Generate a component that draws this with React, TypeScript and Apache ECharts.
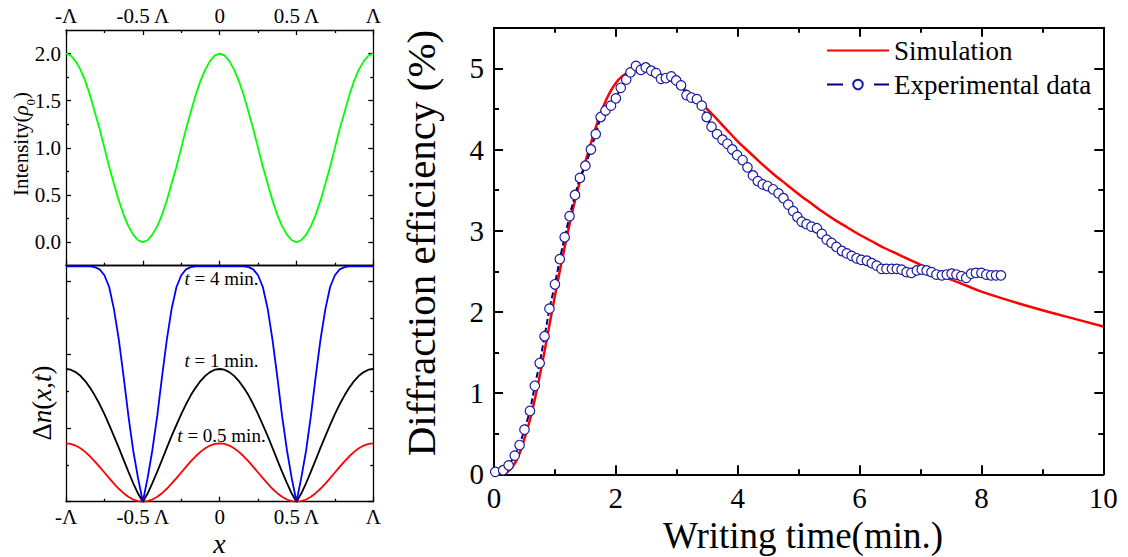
import React, { useEffect, useRef } from "react";
import * as echarts from "echarts";

const FONT = '"Liberation Serif", "Times New Roman", Times, serif';

// ---- left panels: position across one grating period (units of Λ)
const periodX = [
  -1, -0.969, -0.938, -0.906, -0.875, -0.844, -0.813, -0.781, -0.75, -0.719, -0.688, -0.656, -0.625, -0.594, -0.563, -0.531,
  -0.5, -0.469, -0.438, -0.406, -0.375, -0.344, -0.313, -0.281, -0.25, -0.219, -0.188, -0.156, -0.125, -0.094, -0.063, -0.031,
  0, 0.031, 0.063, 0.094, 0.125, 0.156, 0.188, 0.219, 0.25, 0.281, 0.313, 0.344, 0.375, 0.406, 0.438, 0.469,
  0.5, 0.531, 0.563, 0.594, 0.625, 0.656, 0.688, 0.719, 0.75, 0.781, 0.813, 0.844, 0.875, 0.906, 0.938, 0.969, 1,
];

const intensity = [
  2.0, 1.98, 1.92, 1.83, 1.71, 1.56, 1.38, 1.2, 1.0, 0.8, 0.62, 0.44, 0.29, 0.17, 0.08, 0.02, 0,
  0.02, 0.08, 0.17, 0.29, 0.44, 0.62, 0.8, 1.0, 1.2, 1.38, 1.56, 1.71, 1.83, 1.92, 1.98, 2.0,
  1.98, 1.92, 1.83, 1.71, 1.56, 1.38, 1.2, 1.0, 0.8, 0.62, 0.44, 0.29, 0.17, 0.08, 0.02, 0,
  0.02, 0.08, 0.17, 0.29, 0.44, 0.62, 0.8, 1.0, 1.2, 1.38, 1.56, 1.71, 1.83, 1.92, 1.98, 2.0,
];

const dnHalfMin = [
  0.794, 0.786, 0.764, 0.727, 0.678, 0.618, 0.549, 0.474, 0.397, 0.32, 0.245, 0.176, 0.116, 0.067, 0.03, 0.008, 0,
  0.008, 0.03, 0.067, 0.116, 0.176, 0.245, 0.32, 0.397, 0.474, 0.549, 0.618, 0.678, 0.727, 0.764, 0.786, 0.794,
  0.786, 0.764, 0.727, 0.678, 0.618, 0.549, 0.474, 0.397, 0.32, 0.245, 0.176, 0.116, 0.067, 0.03, 0.008, 0,
  0.008, 0.03, 0.067, 0.116, 0.176, 0.245, 0.32, 0.397, 0.474, 0.549, 0.618, 0.678, 0.727, 0.764, 0.786, 0.794,
];

const dnOneMin = [
  1.805, 1.795, 1.763, 1.712, 1.641, 1.552, 1.447, 1.325, 1.191, 1.046, 0.892, 0.732, 0.57, 0.409, 0.254, 0.111, 0,
  0.111, 0.254, 0.409, 0.57, 0.732, 0.892, 1.046, 1.191, 1.325, 1.447, 1.552, 1.641, 1.712, 1.763, 1.795, 1.805,
  1.795, 1.763, 1.712, 1.641, 1.552, 1.447, 1.325, 1.191, 1.046, 0.892, 0.732, 0.57, 0.409, 0.254, 0.111, 0,
  0.111, 0.254, 0.409, 0.57, 0.732, 0.892, 1.046, 1.191, 1.325, 1.447, 1.552, 1.641, 1.712, 1.763, 1.795, 1.805,
];

const dnFourMin = [
  3.2, 3.2, 3.2, 3.2, 3.2, 3.2, 3.19, 3.16, 3.08, 2.92, 2.62, 2.2, 1.7, 1.17, 0.7, 0.32, 0,
  0.32, 0.7, 1.17, 1.7, 2.2, 2.62, 2.92, 3.08, 3.16, 3.19, 3.2, 3.2, 3.2, 3.2, 3.2, 3.2,
  3.2, 3.2, 3.2, 3.2, 3.2, 3.19, 3.16, 3.08, 2.92, 2.62, 2.2, 1.7, 1.17, 0.7, 0.32, 0,
  0.32, 0.7, 1.17, 1.7, 2.2, 2.62, 2.92, 3.08, 3.16, 3.19, 3.2, 3.2, 3.2, 3.2, 3.2, 3.2,
];

// ---- tick values / labels
const phaseTicks = [-1, -0.5, 0, 0.5, 1];
const phaseMinor = [-0.75, -0.25, 0.25, 0.75];
const phaseLabels = ["-Λ", "-0.5 Λ", "0", "0.5 Λ", "Λ"];
const intensityTicks = [0, 0.5, 1, 1.5, 2];
const intensityMinor = [0.25, 0.75, 1.25, 1.75];
const dnTicks = [0, 1, 2, 3];
const dnMinor = [0.5, 1.5, 2.5];
const timeTicks = [0, 2, 4, 6, 8, 10];
const timeMinor = [1, 3, 5, 7, 9];
const effTicks = [0, 1, 2, 3, 4, 5];
const effMinor = [0.5, 1.5, 2.5, 3.5, 4.5];

// ---- right panel: simulation curve
const simTime = [
  0, 0.1, 0.2, 0.3, 0.4, 0.5, 0.6, 0.7, 0.8, 0.9, 1.0, 1.1, 1.2, 1.3, 1.4, 1.5, 1.6, 1.7, 1.8, 1.9,
  2.0, 2.1, 2.2, 2.3, 2.4, 2.5, 2.6, 2.7, 2.8, 2.9, 3.0, 3.2, 3.4, 3.6, 3.8, 4.0, 4.2, 4.4, 4.6, 4.8,
  5.0, 5.2, 5.4, 5.6, 5.8, 6.0, 6.2, 6.4, 6.6, 6.8, 7.0, 7.2, 7.4, 7.6, 7.8, 8.0, 8.5, 9.0, 9.5, 10,
];
const simEff = [
  0, 0.0, 0.02, 0.09, 0.22, 0.44, 0.7, 1.03, 1.4, 1.8, 2.2, 2.58, 2.94, 3.28, 3.58, 3.85, 4.1, 4.34, 4.54, 4.7,
  4.82, 4.9, 4.95, 4.98, 4.99, 4.98, 4.96, 4.93, 4.89, 4.85, 4.8, 4.7, 4.57, 4.42, 4.26, 4.1, 3.96, 3.82, 3.69, 3.57,
  3.45, 3.34, 3.23, 3.13, 3.04, 2.95, 2.87, 2.79, 2.72, 2.65, 2.58, 2.5, 2.43, 2.37, 2.31, 2.25, 2.13, 2.02, 1.92, 1.82,
];

// ---- right panel: experimental data
const expTime = [
  0.02, 0.15, 0.24, 0.34, 0.42, 0.5, 0.59, 0.67, 0.75, 0.83, 0.91, 1.0, 1.08, 1.16, 1.24, 1.33,
  1.41, 1.5, 1.59, 1.67, 1.75, 1.83, 1.92, 2.0, 2.08, 2.17, 2.24, 2.33, 2.41, 2.49, 2.58, 2.66, 2.74, 2.82, 2.91, 2.99,
  3.07, 3.16, 3.24, 3.33, 3.41, 3.49, 3.57, 3.66, 3.75, 3.83, 3.91, 3.99, 4.08, 4.16, 4.25, 4.33, 4.41, 4.49, 4.58, 4.67,
  4.75, 4.83, 4.91, 4.98, 5.05, 5.13, 5.21, 5.3, 5.38, 5.46, 5.54, 5.62, 5.71, 5.79, 5.87, 5.95, 6.03, 6.12, 6.2, 6.28,
  6.36, 6.44, 6.53, 6.61, 6.69, 6.77, 6.85, 6.94, 7.02, 7.1, 7.18, 7.26, 7.35, 7.43, 7.51, 7.59, 7.67, 7.75, 7.83, 7.91,
  8.0, 8.08, 8.16, 8.24, 8.32,
];
const expEff = [
  0.03, 0.05, 0.11, 0.23, 0.36, 0.55, 0.78, 1.09, 1.37, 1.7, 2.04, 2.34, 2.65, 2.92, 3.18, 3.44,
  3.65, 3.8, 4.0, 4.19, 4.4, 4.48, 4.54, 4.63, 4.76, 4.86, 4.95, 5.03, 4.98, 5.01, 4.97, 4.94, 4.87, 4.88, 4.9, 4.85,
  4.79, 4.67, 4.64, 4.62, 4.54, 4.4, 4.28, 4.19, 4.12, 4.07, 4.0, 3.93, 3.87, 3.78, 3.68, 3.61, 3.57, 3.55, 3.51, 3.46,
  3.4, 3.32, 3.24, 3.17, 3.11, 3.08, 3.05, 3.03, 2.96, 2.89, 2.85, 2.8, 2.75, 2.72, 2.69, 2.66, 2.64, 2.63, 2.6, 2.57,
  2.53, 2.53, 2.53, 2.53, 2.52, 2.49, 2.48, 2.51, 2.52, 2.51, 2.49, 2.46, 2.45, 2.46, 2.47, 2.46, 2.44, 2.42, 2.47, 2.48,
  2.48, 2.46, 2.45, 2.45, 2.45,
];

function axis(o: any) {
  return {
    type: "value",
    gridIndex: o.grid,
    position: o.pos,
    min: o.min,
    max: o.max,
    axisLine: { show: o.line !== false, onZero: false, lineStyle: { color: "#000", width: o.lw } },
    axisTick: o.ticks
      ? { show: true, inside: true, length: o.len, customValues: o.ticks, lineStyle: { color: "#000", width: o.lw } }
      : { show: false },
    axisLabel: o.labels
      ? {
          show: true,
          customValues: o.labels,
          formatter: o.fmt,
          fontSize: o.fs,
          fontFamily: FONT,
          color: "#000",
          margin: o.margin,
          hideOverlap: false,
          showMinLabel: true,
          showMaxLabel: true,
        }
      : { show: false },
    splitLine: { show: false },
    minorTick: { show: false },
    splitArea: { show: false },
  };
}

const phaseFmt = (v: number) => {
  const i = phaseTicks.findIndex((t) => Math.abs(t - v) < 1e-6);
  return i >= 0 ? phaseLabels[i] : "";
};

export default function App() {
  const ref = useRef<HTMLDivElement>(null);

  useEffect(() => {
    if (!ref.current) return;
    const chart = echarts.init(ref.current, undefined, { renderer: "svg" });
    const L = 1.3;
    const R = 2;
    const xAxis = [
      // grid 0 (intensity)
      axis({ grid: 0, pos: "top", min: -1, max: 1, lw: L, ticks: phaseTicks, len: 5, labels: phaseTicks, fmt: phaseFmt, fs: 21, margin: 4 }),
      axis({ grid: 0, pos: "top", min: -1, max: 1, lw: L, ticks: phaseMinor, len: 3, line: false }),
      axis({ grid: 0, pos: "bottom", min: -1, max: 1, lw: L, ticks: phaseTicks, len: 5 }),
      axis({ grid: 0, pos: "bottom", min: -1, max: 1, lw: L, ticks: phaseMinor, len: 3, line: false }),
      // grid 1 (Δn)
      axis({ grid: 1, pos: "bottom", min: -1, max: 1, lw: L, ticks: phaseTicks, len: 5, labels: phaseTicks, fmt: phaseFmt, fs: 21, margin: 5 }),
      axis({ grid: 1, pos: "bottom", min: -1, max: 1, lw: L, ticks: phaseMinor, len: 3, line: false }),
      axis({ grid: 1, pos: "top", min: -1, max: 1, lw: L }),
      // grid 2 (diffraction efficiency)
      axis({ grid: 2, pos: "bottom", min: 0, max: 10, lw: R, ticks: timeTicks, len: 9, labels: timeTicks, fmt: (v: number) => String(v), fs: 29, margin: 9 }),
      axis({ grid: 2, pos: "bottom", min: 0, max: 10, lw: R, ticks: timeMinor, len: 5, line: false }),
      axis({ grid: 2, pos: "top", min: 0, max: 10, lw: R, ticks: timeTicks, len: 9 }),
      axis({ grid: 2, pos: "top", min: 0, max: 10, lw: R, ticks: timeMinor, len: 5, line: false }),
    ];
    const yAxis = [
      axis({ grid: 0, pos: "left", min: -0.25, max: 2.25, lw: L, ticks: intensityTicks, len: 5, labels: intensityTicks, fmt: (v: number) => v.toFixed(1), fs: 21, margin: 5 }),
      axis({ grid: 0, pos: "left", min: -0.25, max: 2.25, lw: L, ticks: intensityMinor, len: 3, line: false }),
      axis({ grid: 0, pos: "right", min: -0.25, max: 2.25, lw: L, ticks: intensityTicks, len: 5 }),
      axis({ grid: 0, pos: "right", min: -0.25, max: 2.25, lw: L, ticks: intensityMinor, len: 3, line: false }),
      axis({ grid: 1, pos: "left", min: 0, max: 3.21, lw: L, ticks: dnTicks, len: 5 }),
      axis({ grid: 1, pos: "left", min: 0, max: 3.21, lw: L, ticks: dnMinor, len: 3, line: false }),
      axis({ grid: 1, pos: "right", min: 0, max: 3.21, lw: L, ticks: dnTicks, len: 5 }),
      axis({ grid: 1, pos: "right", min: 0, max: 3.21, lw: L, ticks: dnMinor, len: 3, line: false }),
      axis({ grid: 2, pos: "left", min: 0, max: 5.5, lw: R, ticks: effTicks, len: 9, labels: effTicks, fmt: (v: number) => String(v), fs: 29, margin: 10 }),
      axis({ grid: 2, pos: "left", min: 0, max: 5.5, lw: R, ticks: effMinor, len: 5, line: false }),
      axis({ grid: 2, pos: "right", min: 0, max: 5.5, lw: R, ticks: effTicks, len: 9 }),
      axis({ grid: 2, pos: "right", min: 0, max: 5.5, lw: R, ticks: effMinor, len: 5, line: false }),
    ];

    const pair = (xs: number[], ys: number[]) => xs.map((x, i) => [x, ys[i]]);
    const curve = (name: string, ys: number[], color: string, xi: number, yi: number) => ({
      type: "line",
      name,
      xAxisIndex: xi,
      yAxisIndex: yi,
      data: pair(periodX, ys),
      showSymbol: false,
      symbol: "none",
      clip: false,
      lineStyle: { color, width: 1.8 },
      itemStyle: { color },
      emphasis: { disabled: true },
    });

    const option: any = {
      animation: false,
      textStyle: { fontFamily: FONT },
      grid: [
        { left: 66, top: 30, width: 307.3, height: 235.7, outerBoundsMode: "none", containLabel: false },
        { left: 66, top: 265.7, width: 307.3, height: 236, outerBoundsMode: "none", containLabel: false },
        { left: 494, top: 27.7, width: 609.3, height: 446.6, outerBoundsMode: "none", containLabel: false },
      ],
      xAxis,
      yAxis,
      legend: {
        orient: "vertical",
        left: 821,
        top: 32,
        itemWidth: 62,
        itemHeight: 12,
        itemGap: 7,
        data: [
          { name: "Simulation", itemStyle: { opacity: 0 } },
          { name: "Experimental data", lineStyle: { type: [16, 31], width: 2, color: "#000080" } },
        ],
        textStyle: { fontSize: 27, fontFamily: FONT, color: "#000", padding: [0, 0, 0, 0] },
        selectedMode: false,
      },
      series: [
        curve("I", intensity, "#00ff00", 0, 0),
        curve("dn05", dnHalfMin, "#ff0000", 4, 4),
        curve("dn1", dnOneMin, "#000000", 4, 4),
        curve("dn4", dnFourMin, "#0000ff", 4, 4),
        {
          type: "line",
          name: "Simulation",
          xAxisIndex: 7,
          yAxisIndex: 8,
          data: pair(simTime, simEff),
          smooth: 0.3,
          showSymbol: false,
          symbol: "none",
          lineStyle: { color: "#ff0000", width: 2.5 },
          itemStyle: { color: "#ff0000" },
          emphasis: { disabled: true },
          z: 2,
        },
        {
          type: "line",
          name: "Experimental data",
          xAxisIndex: 7,
          yAxisIndex: 8,
          data: pair(expTime, expEff),
          symbol: "circle",
          symbolSize: 9.5,
          showSymbol: true,
          showAllSymbol: true,
          lineStyle: { color: "#000080", width: 2, type: [6, 3] },
          itemStyle: { color: "#ffffff", borderColor: "#1a1aa0", borderWidth: 1.2 },
          emphasis: { disabled: true },
          z: 3,
        },
      ],
      graphic: [
        {
          type: "text",
          x: 21,
          y: 144,
          rotation: Math.PI / 2,
          style: {
            text: "{a|Intensity(}{b|ρ}{c|0}{a|)}",
            align: "center",
            verticalAlign: "middle",
            fill: "#000",
            rich: {
              a: { fontSize: 21, fontFamily: FONT, fill: "#000", lineHeight: 24 },
              b: { fontSize: 21, fontFamily: FONT, fontStyle: "italic", fill: "#000", lineHeight: 24 },
              c: { fontSize: 13, fontFamily: FONT, fill: "#000", verticalAlign: "bottom", lineHeight: 24, padding: [0, 0, -4, 0] },
            },
          },
        },
        {
          type: "text",
          x: 42,
          y: 403,
          rotation: Math.PI / 2,
          style: {
            text: "{a|Δ}{b|n}{a|(}{b|x}{a|,}{b|t}{a|)}",
            align: "center",
            verticalAlign: "middle",
            fill: "#000",
            rich: {
              a: { fontSize: 27, fontFamily: FONT, fill: "#000" },
              b: { fontSize: 27, fontFamily: FONT, fontStyle: "italic", fill: "#000" },
            },
          },
        },
        {
          type: "text",
          x: 219.5,
          y: 543,
          style: { text: "x", fontSize: 28, fontFamily: FONT, fontStyle: "italic", fill: "#000", align: "center", verticalAlign: "middle" },
        },
        ...[
          { y: 278.5, t: " = 4 min." },
          { y: 360, t: " = 1 min." },
          { y: 435, t: " = 0.5 min." },
        ].map((o) => ({
          type: "text",
          x: 221.5,
          y: o.y,
          style: {
            text: "{b|t}{a|" + o.t + "}",
            align: "center",
            verticalAlign: "middle",
            fill: "#000",
            rich: {
              a: { fontSize: 19, fontFamily: FONT, fill: "#000" },
              b: { fontSize: 19, fontFamily: FONT, fontStyle: "italic", fill: "#000" },
            },
          },
        })),
        {
          type: "text",
          x: 803,
          y: 535,
          style: { text: "Writing time(min.)", fontSize: 37, fontFamily: FONT, fill: "#000", align: "center", verticalAlign: "middle" },
        },
        {
          type: "text",
          x: 421,
          y: 243,
          rotation: Math.PI / 2,
          style: { text: "Diffraction efficiency (%)", fontSize: 41, fontFamily: FONT, fill: "#000", align: "center", verticalAlign: "middle" },
        },
      ],
    };
    chart.setOption(option);
    return () => chart.dispose();
  }, []);

  return (
    <div
      ref={ref}
      style={{ position: "fixed", left: 0, top: 0, width: 1128, height: 557, background: "#fff" }}
    />
  );
}
